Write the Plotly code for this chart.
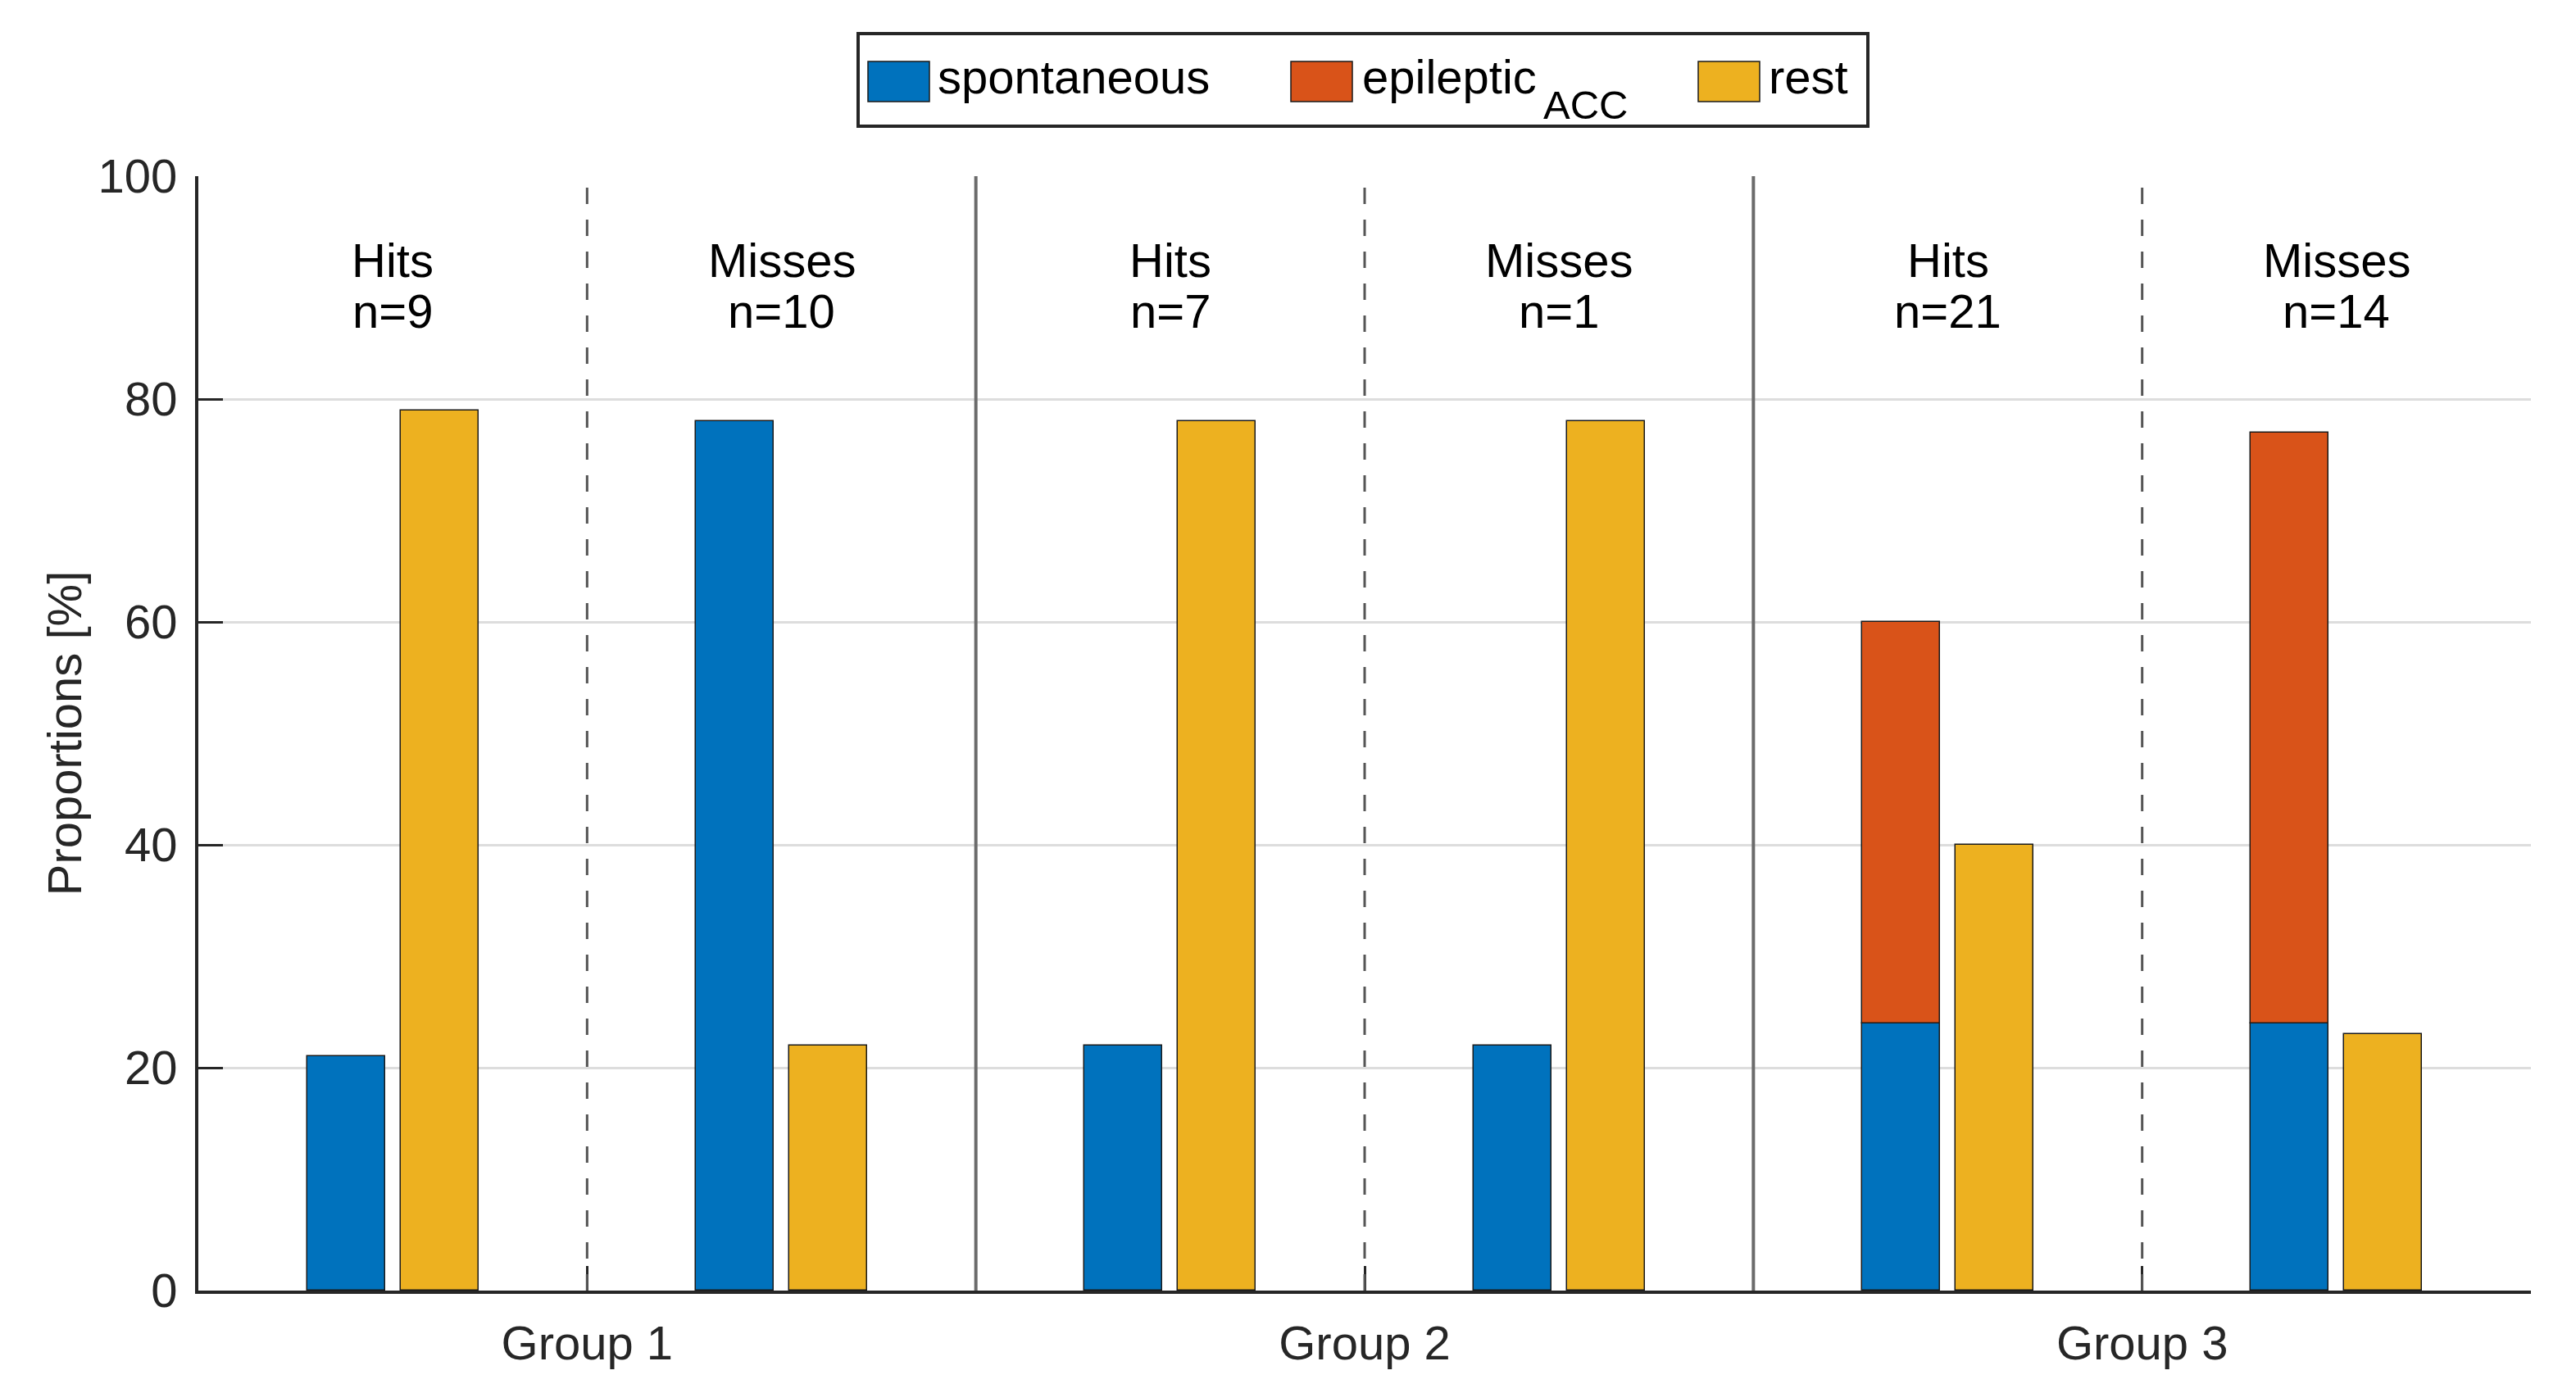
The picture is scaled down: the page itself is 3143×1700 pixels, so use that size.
import numpy as np
import plotly.graph_objects as go

# ---------------- data ----------------
conditions = ["Hits", "Misses", "Hits", "Misses", "Hits", "Misses"]
counts = [9, 10, 7, 1, 21, 14]
groups = ["Group 1", "Group 2", "Group 3"]
spontaneous = [21, 78, 22, 22, 24, 24]
epileptic_acc = [None, None, None, None, 36, 53]
rest = [79, 22, 78, 78, 40, 23]
series_names = ["spontaneous", "epileptic<sub>ACC</sub>", "rest"]
colors = ["#0072BD", "#D95319", "#EDB120"]

# ---------------- geometry helpers ----------------
W, H = 3143, 1700
OFF = 8  # page body margin
L, R, T, B = 242, 3143 - 3088, 215, 1700 - 1575
PW, PH = W - L - R, H - T - B
FONT = "Liberation Sans, Arial, Helvetica, sans-serif"
FS = 58
TXT = "#262626"


def px(xp):
    return (xp - L) / PW


def py(yp):
    return (H - B - yp) / PH


n_slots = len(conditions)
slot_pos = np.arange(n_slots) + 0.5
group_pos = np.arange(len(groups)) * 2 + 1

fig = go.Figure()
edge = dict(color="#1a1a1a", width=1.5)
fig.add_trace(go.Bar(x=slot_pos, y=spontaneous, width=0.2, offset=-0.22,
                     marker=dict(color=colors[0], line=edge), name=series_names[0],
                     showlegend=False))
fig.add_trace(go.Bar(x=slot_pos, y=epileptic_acc, base=spontaneous, width=0.2, offset=-0.22,
                     marker=dict(color=colors[1], line=edge), name=series_names[1],
                     showlegend=False))
fig.add_trace(go.Bar(x=slot_pos, y=rest, width=0.2, offset=0.02,
                     marker=dict(color=colors[2], line=edge), name=series_names[2],
                     showlegend=False))

shapes = []
# separators: dashed at group centres, solid at group boundaries
for g in group_pos:
    shapes.append(dict(type="line", xref="x", yref="y", x0=g, x1=g, y0=0, y1=100,
                       line=dict(color="#555555", width=3, dash="20px,19px"), layer="above"))
for b in group_pos[:-1] + 1:
    shapes.append(dict(type="line", xref="x", yref="y", x0=b, x1=b, y0=0, y1=100,
                       line=dict(color="#6b6b6b", width=4), layer="above"))

annotations = []
for xpos, cond, n in zip(slot_pos, conditions, counts):
    annotations.append(dict(x=xpos, y=92.5, xref="x", yref="y", text=cond, showarrow=False,
                            font=dict(family=FONT, size=FS, color="black"),
                            xanchor="center", yanchor="middle"))
    annotations.append(dict(x=xpos, y=87.9, xref="x", yref="y", text=f"n={n}", showarrow=False,
                            font=dict(family=FONT, size=FS, color="black"),
                            xanchor="center", yanchor="middle"))

# ---------------- legend (drawn box) ----------------
shapes.append(dict(type="rect", xref="paper", yref="paper",
                   x0=px(1047), x1=px(2279), y0=py(154), y1=py(41),
                   line=dict(color="#262626", width=4), fillcolor="white"))
sw_x = [1059, 1575, 2072]
tx_x = [1142, 1660, 2156]
legend_texts = ["spontaneous", "epileptic", "rest"]
for c, sx, tx, name in zip(colors, sw_x, tx_x, legend_texts):
    shapes.append(dict(type="rect", xref="paper", yref="paper",
                       x0=px(sx), x1=px(sx + 75), y0=py(124), y1=py(75),
                       line=dict(color="#1a1a1a", width=1.5), fillcolor=c))
    annotations.append(dict(x=px(tx), y=py(93), xref="paper", yref="paper", text=name,
                            showarrow=False, xanchor="left", yanchor="middle",
                            font=dict(family=FONT, size=FS, color="black")))
# subscript of epileptic_ACC
annotations.append(dict(x=px(1881), y=py(128), xref="paper", yref="paper", text="ACC",
                        showarrow=False, xanchor="left", yanchor="middle",
                        font=dict(family=FONT, size=49, color="black")))

fig.update_layout(
    width=W, height=H,
    margin=dict(l=L - OFF, r=R + OFF, t=T - OFF, b=B + OFF, pad=0),
    paper_bgcolor="white", plot_bgcolor="white",
    barmode="overlay", bargap=0,
    showlegend=False,
    shapes=shapes, annotations=annotations,
    font=dict(family=FONT, size=FS, color=TXT),
    xaxis=dict(range=[0, n_slots], tickmode="array", tickvals=group_pos, ticktext=groups,
               ticks="inside", ticklen=30, tickwidth=3, tickcolor=TXT,
               showline=True, linecolor=TXT, linewidth=4, showgrid=False, zeroline=False,
               tickfont=dict(family=FONT, size=FS, color=TXT), ticklabelstandoff=10),
    yaxis=dict(range=[0, 100], tickmode="linear", tick0=0, dtick=20,
               ticks="inside", ticklen=30, tickwidth=3, tickcolor=TXT,
               showline=True, linecolor=TXT, linewidth=4, showgrid=True,
               gridcolor="#dddddd", gridwidth=3, zeroline=False,
               tickfont=dict(family=FONT, size=FS, color=TXT), ticklabelstandoff=10,
               title=dict(text="Proportions [%]", font=dict(family=FONT, size=FS, color=TXT),
                          standoff=2)),
)

fig.write_html("out.html")
